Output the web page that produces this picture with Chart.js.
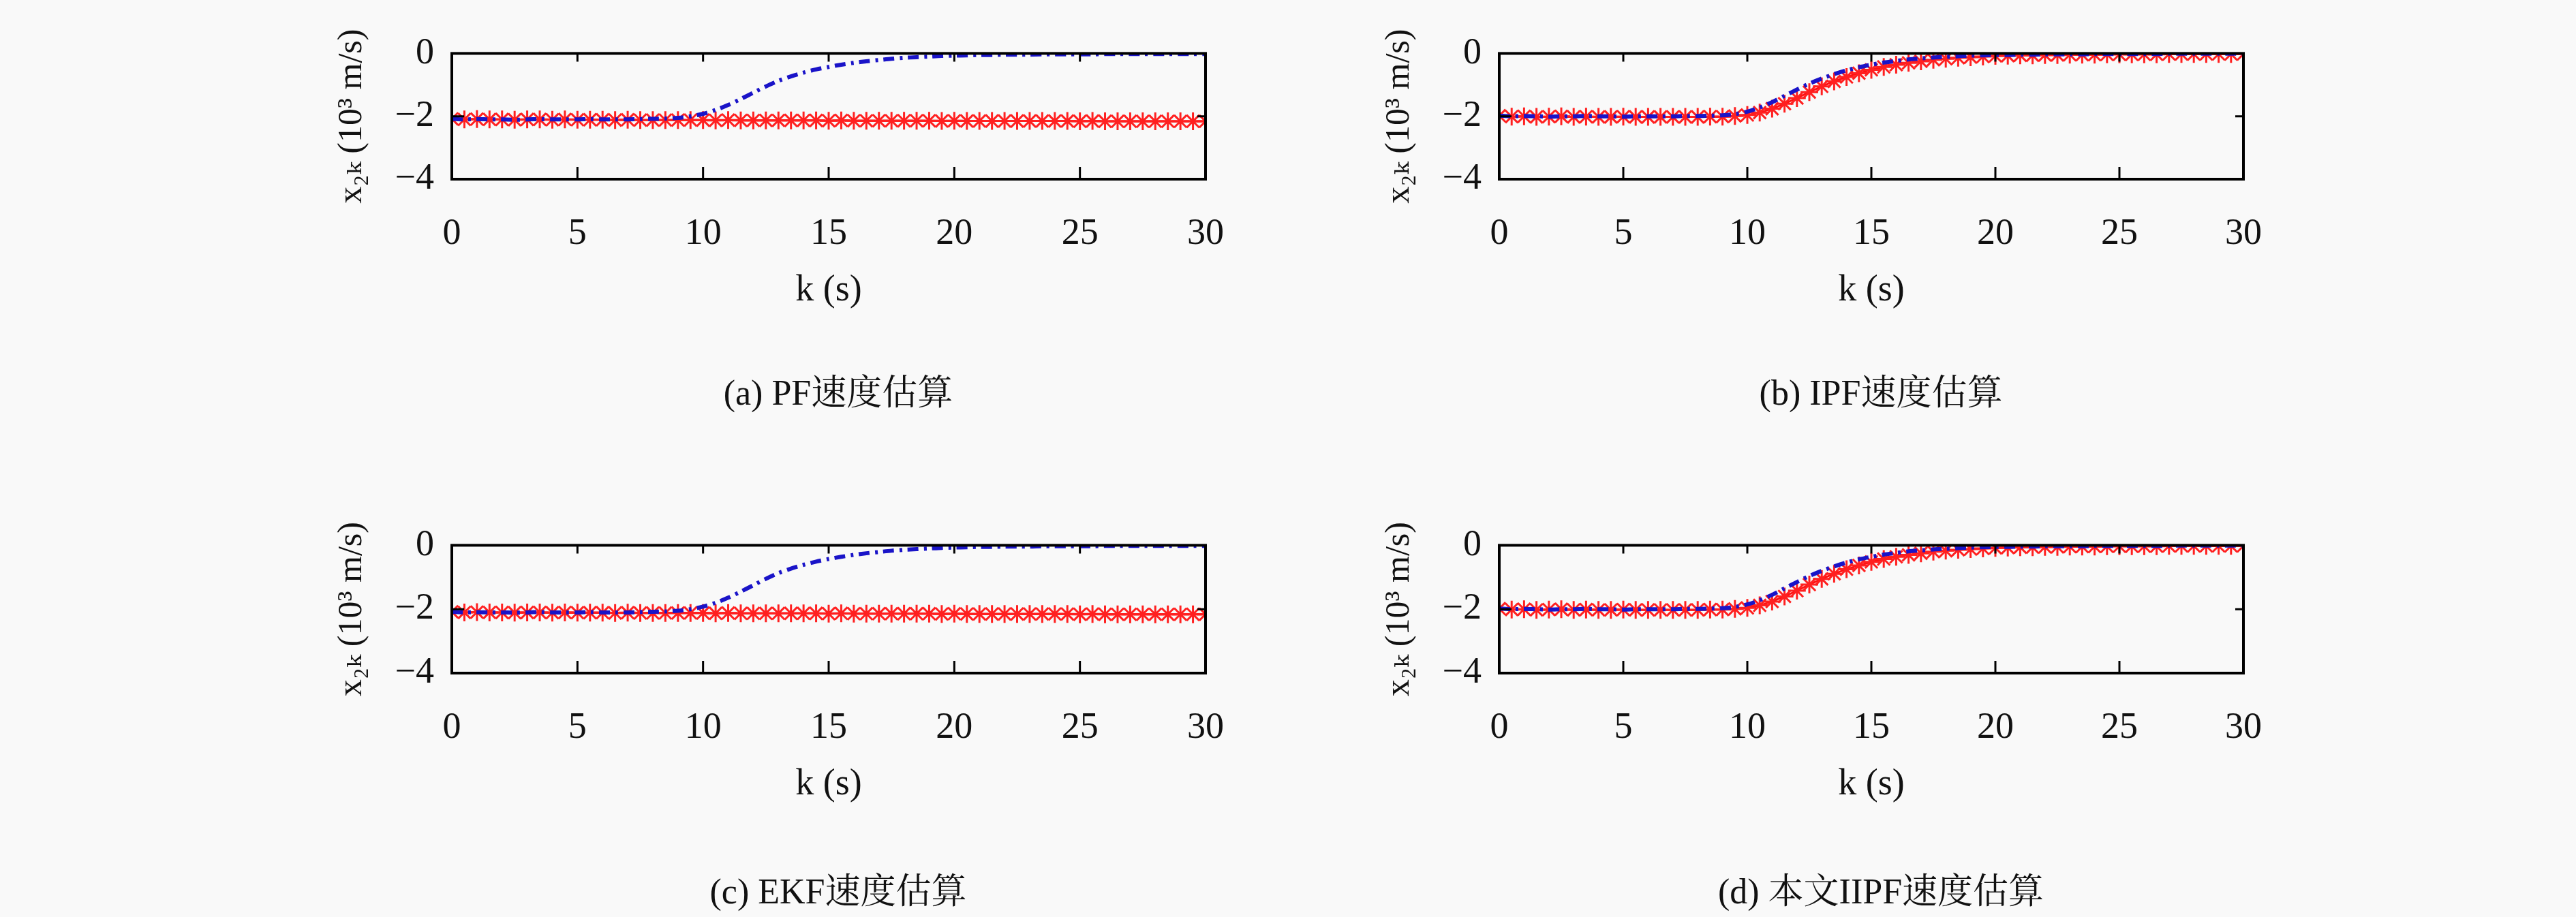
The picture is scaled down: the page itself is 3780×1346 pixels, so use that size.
<!DOCTYPE html>
<html><head><meta charset="utf-8">
<script src="https://cdn.jsdelivr.net/npm/chart.js@4"></script>
<style>
body{margin:0;background:#f9f9f9;width:3780px;height:1346px;position:relative;overflow:hidden}
.box{position:absolute}
.cap{position:absolute;font:52px "Liberation Serif","Noto Serif CJK SC","Noto Sans CJK SC";color:#111;transform:translateX(-50%);white-space:nowrap}
</style></head><body>
<div class="box" id="wa" style="left:483px;top:28px;width:1353px;height:435px"><canvas id="ca"></canvas></div>
<div class="box" id="wb" style="left:2020px;top:28px;width:1339px;height:435px"><canvas id="cb"></canvas></div>
<div class="box" id="wc" style="left:483px;top:750px;width:1353px;height:438px"><canvas id="cc"></canvas></div>
<div class="box" id="wd" style="left:2020px;top:750px;width:1339px;height:438px"><canvas id="cd"></canvas></div>
<div class="cap" style="left:1230px;top:534px">(a) PF速度估算</div>
<div class="cap" style="left:2760px;top:534px">(b) IPF速度估算</div>
<div class="cap" style="left:1230px;top:1266px">(c) EKF速度估算</div>
<div class="cap" style="left:2760px;top:1266px">(d) 本文IIPF速度估算</div>
<script>
// --- data ---
const kValues = [0,0.5,1,1.5,2,2.5,3,3.5,4,4.5,5,5.5,6,6.5,7,7.5,8,8.5,9,9.5,10,10.5,11,11.5,12,12.5,13,13.5,14,14.5,15,15.5,16,16.5,17,17.5,18,18.5,19,19.5,20,20.5,21,21.5,22,22.5,23,23.5,24,24.5,25,25.5,26,26.5,27,27.5,28,28.5,29,29.5,30];
const xTicks = [0,5,10,15,20,25,30];
const yTicks = [0,-2,-4];

// PF / EKF
const trueA = [-2.08,-2.1,-2.09,-2.1,-2.1,-2.11,-2.1,-2.09,-2.1,-2.1,-2.1,-2.09,-2.1,-2.1,-2.1,-2.09,-2.08,-2.07,-2.05,-2.0,-1.92,-1.8,-1.64,-1.45,-1.25,-1.05,-0.87,-0.73,-0.61,-0.51,-0.43,-0.36,-0.3,-0.25,-0.21,-0.17,-0.14,-0.12,-0.1,-0.08,-0.07,-0.06,-0.05,-0.05,-0.04,-0.04,-0.04,-0.03,-0.03,-0.03,-0.03,-0.03,-0.02,-0.02,-0.02,-0.02,-0.02,-0.02,-0.02,-0.02,-0.02];
const estA = [-2.08,-2.1,-2.09,-2.1,-2.1,-2.11,-2.1,-2.1,-2.11,-2.1,-2.11,-2.11,-2.11,-2.12,-2.11,-2.12,-2.12,-2.12,-2.12,-2.12,-2.12,-2.13,-2.12,-2.13,-2.13,-2.13,-2.13,-2.13,-2.13,-2.13,-2.14,-2.13,-2.14,-2.14,-2.14,-2.14,-2.14,-2.14,-2.14,-2.15,-2.14,-2.15,-2.15,-2.15,-2.15,-2.15,-2.15,-2.15,-2.15,-2.15,-2.16,-2.15,-2.16,-2.16,-2.16,-2.16,-2.16,-2.16,-2.16,-2.16,-2.16];

// IPF / IIPF
const trueB = [-1.98,-2.0,-1.99,-2.0,-2.01,-2.0,-2.0,-1.99,-2.0,-2.0,-2.01,-2.0,-2.0,-2.0,-2.0,-1.99,-1.99,-1.98,-1.97,-1.93,-1.85,-1.72,-1.55,-1.35,-1.15,-0.96,-0.8,-0.66,-0.54,-0.44,-0.36,-0.29,-0.24,-0.19,-0.16,-0.13,-0.11,-0.09,-0.07,-0.06,-0.05,-0.05,-0.04,-0.04,-0.03,-0.03,-0.03,-0.03,-0.02,-0.02,-0.02,-0.02,-0.02,-0.02,-0.01,-0.01,-0.01,-0.01,-0.01,-0.01,-0.01];
const estB = [-1.98,-2.01,-2.0,-2.02,-2.01,-2.0,-2.02,-2.01,-2.02,-2.02,-2.01,-2.02,-2.02,-2.02,-2.02,-2.02,-2.02,-2.01,-2.01,-1.99,-1.96,-1.88,-1.76,-1.6,-1.42,-1.23,-1.05,-0.89,-0.75,-0.63,-0.52,-0.43,-0.36,-0.3,-0.25,-0.2,-0.17,-0.14,-0.12,-0.1,-0.08,-0.07,-0.06,-0.06,-0.05,-0.05,-0.04,-0.04,-0.04,-0.03,-0.03,-0.03,-0.03,-0.03,-0.02,-0.02,-0.02,-0.02,-0.02,-0.02,-0.02];

const serif = '"Liberation Serif","DejaVu Serif",serif';

// frame + inward ticks
const framePlugin = {
  id: "frame",
  afterDatasetsDraw(chart) {
    const { ctx, chartArea: a, scales } = chart;
    ctx.save();
    ctx.strokeStyle = "#000";
    ctx.lineWidth = 4;
    ctx.strokeRect(a.left, a.top, a.right - a.left, a.bottom - a.top);
    ctx.lineWidth = 3;
    xTicks.forEach((v) => {
      const px = scales.x.getPixelForValue(v);
      ctx.beginPath(); ctx.moveTo(px, a.bottom); ctx.lineTo(px, a.bottom - 18);
      ctx.moveTo(px, a.top); ctx.lineTo(px, a.top + 12); ctx.stroke();
    });
    yTicks.forEach((v) => {
      const py = scales.y.getPixelForValue(v);
      ctx.beginPath(); ctx.moveTo(a.left, py); ctx.lineTo(a.left + 18, py);
      ctx.moveTo(a.right, py); ctx.lineTo(a.right - 12, py); ctx.stroke();
    });
    ctx.restore();
  },
};

function makeChart(id, blue, red) {
  new Chart(document.getElementById(id), {
    type: "line",
    data: {
      datasets: [
        {
          data: kValues.map((k, i) => ({ x: k, y: red[i] })),
          borderColor: "#ff1010",
          borderWidth: 3,
          pointStyle: "star",
          pointRadius: 13,
          pointBorderWidth: 3,
          pointBorderColor: "#ff2020",
          order: 2,
        },
        {
          data: kValues.map((k, i) => ({ x: k, y: blue[i] })),
          borderColor: "#1a14c8",
          borderWidth: 6,
          borderDash: [16, 8, 4, 8],
          pointRadius: 0,
          tension: 0.3,
          order: 1,
        },
      ],
    },
    options: {
      responsive: true,
      maintainAspectRatio: false,
      animation: false,
      layout: { padding: { top: 40, right: 40 } },
      plugins: { legend: { display: false }, tooltip: { enabled: false } },
      scales: {
        x: {
          type: "linear", min: 0, max: 30,
          afterBuildTicks: (s) => { s.ticks = xTicks.map((v) => ({ value: v })); },
          afterFit: (s) => { s.height = 200; },
          grid: { display: false },
          border: { display: false },
          ticks: { color: "#111", font: { family: serif, size: 54 }, padding: 40 },
          title: { display: true, text: "k (s)", color: "#111", font: { family: serif, size: 54 }, padding: { top: 18 } },
        },
        y: {
          min: -4, max: 0,
          afterBuildTicks: (s) => { s.ticks = yTicks.map((v) => ({ value: v })); },
          afterFit: (s) => { s.width = 180; },
          grid: { display: false },
          border: { display: false },
          ticks: { color: "#111", font: { family: serif, size: 54 }, padding: 18,
            callback: (v) => (v < 0 ? "\u2212" + Math.abs(v) : v) },
          title: { display: true, text: "x\u2082\u2096 (10\u00b3 m/s)", color: "#111", font: { family: serif, size: 50 }, padding: { bottom: 4 } },
        },
      },
    },
    plugins: [framePlugin],
  });
}

makeChart("ca", trueA, estA);
makeChart("cb", trueB, estB);
makeChart("cc", trueA, estA);
makeChart("cd", trueB, estB);
</script>
</body></html>
